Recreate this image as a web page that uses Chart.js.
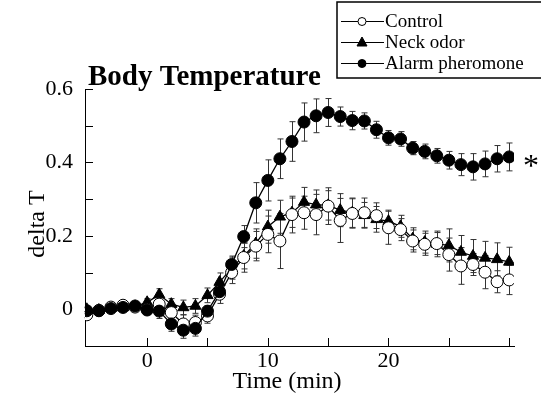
<!DOCTYPE html>
<html><head><meta charset="utf-8">
<script src="https://cdn.jsdelivr.net/npm/chart.js@4/dist/chart.umd.min.js"></script>
<style>html,body{margin:0;padding:0;background:#fff}#wrap{width:541px;height:404px}</style>
</head><body><div id="wrap"><canvas id="c" width="541" height="404"></canvas></div>
<script>
const timeMin = [-5,-4,-3,-2,-1,0,1,2,3,4,5,6,7,8,9,10,11,12,13,14,15,16,17,18,19,20,21,22,23,24,25,26,27,28,29,30];
const controlMean = [-0.015,-0.003,0.006,0.011,0.006,0.000,0.014,-0.009,-0.040,-0.036,-0.018,0.041,0.100,0.141,0.172,0.204,0.186,0.258,0.263,0.258,0.281,0.242,0.261,0.263,0.255,0.222,0.217,0.186,0.177,0.179,0.149,0.118,0.122,0.101,0.075,0.080];
const controlErr = [0.008,0.008,0.008,0.008,0.008,0.010,0.020,0.020,0.025,0.020,0.020,0.025,0.030,0.040,0.040,0.050,0.075,0.050,0.045,0.055,0.050,0.060,0.040,0.040,0.035,0.045,0.030,0.030,0.030,0.030,0.045,0.050,0.030,0.045,0.030,0.040];
const neckMean = [0.000,-0.002,0.003,0.005,0.008,0.019,0.040,0.014,0.005,0.009,0.038,0.074,0.112,0.145,0.179,0.225,0.252,0.263,0.292,0.285,0.283,0.270,0.263,0.256,0.245,0.240,0.226,0.192,0.183,0.178,0.174,0.156,0.145,0.140,0.136,0.129];
const neckErr = [0.006,0.006,0.006,0.006,0.006,0.010,0.016,0.015,0.020,0.020,0.020,0.025,0.030,0.035,0.040,0.045,0.045,0.040,0.040,0.040,0.040,0.045,0.040,0.035,0.035,0.030,0.030,0.030,0.030,0.035,0.045,0.045,0.045,0.045,0.045,0.040];
const alarmMean = [-0.004,-0.004,0.002,0.005,0.009,-0.002,-0.005,-0.040,-0.057,-0.052,-0.005,0.048,0.122,0.198,0.290,0.351,0.410,0.457,0.510,0.527,0.536,0.525,0.514,0.513,0.489,0.467,0.464,0.439,0.430,0.418,0.406,0.394,0.388,0.396,0.410,0.415];
const alarmErr = [0.008,0.006,0.006,0.006,0.008,0.010,0.020,0.020,0.022,0.021,0.014,0.017,0.023,0.030,0.055,0.056,0.054,0.054,0.052,0.046,0.038,0.026,0.025,0.022,0.023,0.020,0.020,0.018,0.020,0.020,0.024,0.030,0.036,0.035,0.036,0.038];
const seriesNames = ['Control','Neck odor','Alarm pheromone'];
const yLabelValues = [0,0.2,0.4,0.6];
const yTickValues = [0,0.1,0.2,0.3,0.4,0.5,0.6];
const xLabelValues = [0,10,20,30];
const xTickValues = [0,5,10,15,20,25,30];
const chartTitle = 'Body Temperature';
const xTitle = 'Time (min)';
const yTitle = 'delta T';
const sigMark = '*';

const SERIF = '"Liberation Serif", "Times New Roman", serif';
function pts(m){ return timeMin.map((t,i)=>({x:t,y:m[i]})); }

const styles = [
  {pointStyle:'circle', bg:'#fff', order:1},
  {pointStyle:'triangle', bg:'#000', order:2},
  {pointStyle:'circle', bg:'#000', order:0}
];
const means=[controlMean,neckMean,alarmMean], errs=[controlErr,neckErr,alarmErr];

const datasets = seriesNames.map((n,i)=>({
  label:n, data:pts(means[i]), errors:errs[i],
  borderColor:'#000', borderWidth:1.3, backgroundColor:styles[i].bg,
  pointStyle:styles[i].pointStyle, pointRadius: styles[i].pointStyle==='triangle'?6.5:6,
  pointBorderColor:'#000', pointBorderWidth:1, pointBackgroundColor:styles[i].bg,
  order:styles[i].order, tension:0, fill:false
}));

const extras = {
  id:'extras',
  beforeDatasetsDraw(chart){
    const ctx=chart.ctx, xs=chart.scales.x, ys=chart.scales.y;
    ctx.save(); ctx.strokeStyle='#333'; ctx.lineWidth=1;
    chart.data.datasets.forEach(ds=>{
      ds.data.forEach((p,i)=>{
        const e=ds.errors[i]; const px=Math.round(xs.getPixelForValue(p.x))+0.5;
        const y1=ys.getPixelForValue(p.y+e), y2=ys.getPixelForValue(p.y-e);
        ctx.beginPath(); ctx.moveTo(px,y1); ctx.lineTo(px,y2);
        ctx.moveTo(px-3,y1); ctx.lineTo(px+3,y1);
        ctx.moveTo(px-3,y2); ctx.lineTo(px+3,y2); ctx.stroke();
      });
    });
    ctx.restore();
  },
  afterDraw(chart){
    const ctx=chart.ctx, xs=chart.scales.x, ys=chart.scales.y, ca=chart.chartArea;
    ctx.save();
    ctx.strokeStyle='#000'; ctx.lineWidth=1;
    yTickValues.forEach(v=>{ const py=Math.round(ys.getPixelForValue(v))+0.5;
      ctx.beginPath(); ctx.moveTo(ca.left,py); ctx.lineTo(ca.left+8,py); ctx.stroke(); });
    xTickValues.forEach(v=>{ const px=Math.round(xs.getPixelForValue(v))+0.5;
      ctx.beginPath(); ctx.moveTo(px,ca.bottom); ctx.lineTo(px,ca.bottom-8); ctx.stroke(); });
    ctx.fillStyle='#000';
    // axis titles
    ctx.font='24px '+SERIF; ctx.textAlign='center'; ctx.textBaseline='middle';
    ctx.fillText(xTitle,287,382);
    ctx.save(); ctx.translate(38,224); ctx.rotate(-Math.PI/2); ctx.fillText(yTitle,0,0); ctx.restore();
    // title
    ctx.textAlign='left'; ctx.textBaseline='alphabetic';
    ctx.font='bold 29px '+SERIF; ctx.fillText(chartTitle,88,85);
    // asterisk
    ctx.font='32px '+SERIF; ctx.fillText(sigMark,523,176);
    // legend
    ctx.lineWidth=1.5; ctx.strokeRect(337,2,214,76);
    const rows=[21,42,63];
    chart.data.datasets.forEach((ds,i)=>{
      const y=rows[i];
      ctx.lineWidth=1; ctx.strokeStyle='#000';
      ctx.beginPath(); ctx.moveTo(341,y+0.5); ctx.lineTo(384,y+0.5); ctx.stroke();
      ctx.fillStyle=ds.pointBackgroundColor;
      ctx.beginPath();
      if(ds.pointStyle==='triangle'){ ctx.moveTo(362,y-5); ctx.lineTo(367,y+4); ctx.lineTo(357,y+4); ctx.closePath(); }
      else ctx.arc(362,y+0.5,4,0,Math.PI*2);
      ctx.fill(); ctx.stroke();
      ctx.fillStyle='#000'; ctx.font='19px '+SERIF; ctx.textBaseline='middle';
      ctx.fillText(ds.label,385,y+1);
    });
    ctx.restore();
  }
};

new Chart(document.getElementById('c'),{
  type:'line',
  data:{datasets},
  options:{
    responsive:false, animation:false,
    layout:{padding:{top:89,right:27,left:0,bottom:0}},
    plugins:{legend:{display:false},tooltip:{enabled:false},title:{display:false}},
    scales:{
      x:{type:'linear',min:-5.15,max:30.4,
        afterFit(s){ s.height=58; },
        grid:{display:true,drawOnChartArea:false,drawTicks:false},
        border:{display:true,color:'#000',width:1},
        ticks:{stepSize:5,padding:2,color:'#000',font:{family:SERIF,size:22},autoSkip:false,maxRotation:0,
          callback:v=> xLabelValues.includes(v)? String(v):''}
      },
      y:{type:'linear',min:-0.1,max:0.6,
        afterFit(s){ s.width=85; },
        grid:{display:true,drawOnChartArea:false,drawTicks:false},
        border:{display:true,color:'#000',width:1},
        ticks:{stepSize:0.1,padding:12,color:'#000',font:{family:SERIF,size:22},autoSkip:false,
          callback:v=>{ const r=Math.round(v*10)/10; return yLabelValues.includes(r)? (r===0?'0':r.toFixed(1)):''; }}
      }
    }
  },
  plugins:[extras]
});
</script></body></html>
